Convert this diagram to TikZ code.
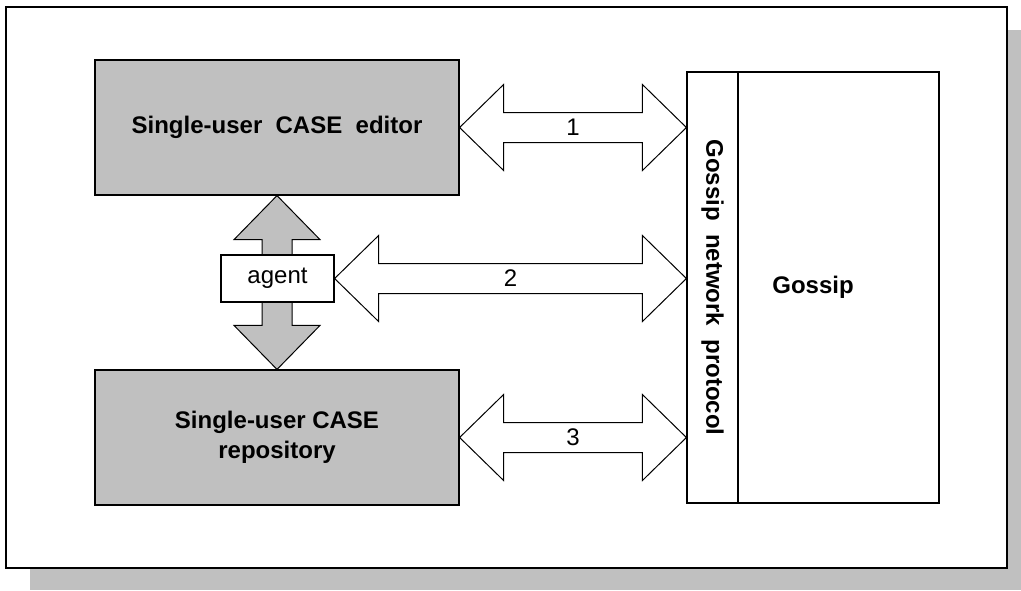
\documentclass[tikz,border=0pt]{standalone}
\usepackage{fontspec}
\setmainfont{Liberation Sans}
\usetikzlibrary{calc,positioning}
\definecolor{cG}{HTML}{c0c0c0}
\newcommand{\txt}{\fontsize{12}{15}\selectfont}
\tikzset{
  frame/.style={draw=black,fill=white,line width=0.6pt},
  tool/.style={draw=black,fill=cG,line width=0.6pt,align=center,font=\txt\bfseries},
  plain/.style={draw=black,fill=white,line width=0.6pt,inner sep=0pt,font=\txt},
  blk/.style={draw=black,line width=0.5pt,line join=miter},
}
% horizontal block arrow with two heads, from #2 to the x of #3
\newcommand{\hlink}[3]{%
  \draw[blk,fill=white] let \p1=(#1), \p2=(#2) in
    (\x1,\y1) -- (\x1+22pt,\y1+21.5pt) -- (\x1+22pt,\y1+7.5pt)
    -- (\x2-22pt,\y1+7.5pt) -- (\x2-22pt,\y1+21.5pt) -- (\x2,\y1)
    -- (\x2-22pt,\y1-21.5pt) -- (\x2-22pt,\y1-7.5pt)
    -- (\x1+22pt,\y1-7.5pt) -- (\x1+22pt,\y1-21.5pt) -- cycle
    (0.5*\x1+0.5*\x2,\y1) node {#3};}
% vertical block arrow with two heads, from #1 down to the y of #2
\newcommand{\vlink}[2]{%
  \draw[blk,fill=cG] let \p1=(#1), \p2=(#2) in
    (\x1,\y1) -- (\x1+21.5pt,\y1-22pt) -- (\x1+7.5pt,\y1-22pt)
    -- (\x1+7.5pt,\y2+22pt) -- (\x1+21.5pt,\y2+22pt) -- (\x1,\y2)
    -- (\x1-21.5pt,\y2+22pt) -- (\x1-7.5pt,\y2+22pt)
    -- (\x1-7.5pt,\y1-22pt) -- (\x1-21.5pt,\y1-22pt) -- cycle;}

\begin{document}
\begin{tikzpicture}[x=0.5pt,y=-0.5pt,font=\txt]
  \useasboundingbox (0,0) rectangle (1021,590);
  % sheet with its drop shadow
  \fill[cG] (30,30) rectangle (1021,590);
  \draw[frame] (6,7) rectangle (1007,568);

  % the two single-user tools
  \node[tool,minimum width=182pt,minimum height=67.5pt] (editor) at (277,127.5) {Single-user\ \ CASE\ \ editor};
  \node[tool,minimum width=182pt,minimum height=67.5pt] (repo) at (277,437.5) {Single-user CASE\\repository};

  % gossip with its protocol layer
  \node[plain,minimum width=126pt,minimum height=215.5pt,font=\txt\bfseries] (gossip) at (813,287.5) {Gossip};
  \node[plain,rotate=-90,minimum width=215.5pt,minimum height=25.5pt,font=\txt\bfseries] (proto) at (712.5,287.5) {Gossip\ \ network\ \ protocol};

  % agent between editor and repository
  \vlink{editor.south}{repo.north}
  \node[plain,minimum width=56.5pt,minimum height=23.5pt] (agent) at (277.5,278.5) {agent};

  % links to the protocol layer
  \hlink{editor.east}{gossip.west}{1}
  \hlink{agent.east}{gossip.west}{2}
  \hlink{repo.east}{gossip.west}{3}
\end{tikzpicture}
\end{document}
